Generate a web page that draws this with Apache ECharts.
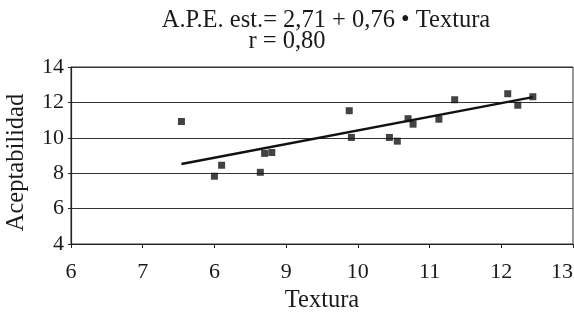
<!DOCTYPE html>
<html>
<head>
<meta charset="utf-8">
<script src="https://cdn.jsdelivr.net/npm/echarts@6/dist/echarts.min.js"></script>
<style>
  html, body { margin: 0; padding: 0; background: #fff; }
  #chart { width: 574px; height: 313px; }
</style>
</head>
<body>
<div id="chart"></div>
<script>
// puntos
const textura = [7.54, 8.0, 8.1, 8.64, 8.7, 8.8, 9.88, 9.91, 10.44, 10.55, 10.7, 10.77, 11.13, 11.35, 12.09, 12.23, 12.44];
const aceptabilidad = [10.92, 7.83, 8.45, 8.05, 9.12, 9.17, 11.53, 10.02, 10.02, 9.81, 11.08, 10.77, 11.05, 12.15, 12.49, 11.84, 12.32];
// recta de regresión (extremos)
const trendX = [7.54, 12.44];
const trendY = [8.52, 12.3];
// etiquetas del eje x tal como aparecen
const xTickLabels = ['6', '7', '6', '9', '10', '11', '12', '13'];

const FONT = '"Liberation Serif", "DejaVu Serif", serif';
const chart = echarts.init(document.getElementById('chart'));

let points = textura.map((x, i) => [x, aceptabilidad[i]]);
let trend = trendX.map((x, i) => [x, trendY[i]]);

let option = {
  animation: false,
  title: [
    {
      text: 'A.P.E. est.= 2,71 + 0,76 • Textura',
      left: 326,
      top: 8,
      textAlign: 'center',
      padding: 0,
      textStyle: { fontFamily: FONT, fontSize: 24.5, fontWeight: 'normal', color: '#1a1a1a' },
    },
    {
      text: 'r = 0,80',
      left: 287,
      top: 29,
      textAlign: 'center',
      padding: 0,
      textStyle: { fontFamily: FONT, fontSize: 24.5, fontWeight: 'normal', color: '#1a1a1a' },
    },
  ],
  grid: {
    left: 71,
    right: 1,
    top: 67,
    bottom: 69,
    outerBoundsMode: 'none',
    containLabel: false,
    show: true,
    borderColor: '#333',
    borderWidth: 1,
  },
  xAxis: {
    type: 'value',
    min: 6,
    max: 13,
    interval: 1,
    name: 'Textura',
    nameLocation: 'middle',
    nameGap: 44,
    nameTextStyle: { fontFamily: FONT, fontSize: 24.5, color: '#1a1a1a' },
    axisLine: { lineStyle: { color: '#222', width: 1.2 } },
    axisTick: { show: true, length: 4, lineStyle: { color: '#222' } },
    splitLine: { show: false },
    axisLabel: {
      margin: 17,
      fontFamily: FONT,
      fontSize: 22,
      color: '#1a1a1a',
      hideOverlap: false,
      alignMaxLabel: 'right',
      formatter: (v) => xTickLabels[Math.round(v - 6)],
    },
  },
  yAxis: {
    type: 'value',
    min: 4,
    max: 14,
    interval: 2,
    name: 'Aceptabilidad',
    nameLocation: 'middle',
    nameGap: 42,
    nameTextStyle: { fontFamily: FONT, fontSize: 24.5, color: '#1a1a1a', padding: [0, 14, 0, 0] },
    axisLine: { show: true, lineStyle: { color: '#222', width: 1.2 } },
    axisTick: { show: true, length: 3, lineStyle: { color: '#222' } },
    splitLine: { show: true, lineStyle: { color: '#333', width: 1.2 } },
    axisLabel: {
      margin: 7,
      fontFamily: FONT,
      fontSize: 22,
      color: '#1a1a1a',
    },
  },
  series: [
    {
      type: 'line',
      data: trend,
      symbol: 'none',
      lineStyle: { color: '#111', width: 2.4 },
      z: 2,
    },
    {
      type: 'scatter',
      data: points,
      symbol: 'rect',
      symbolSize: 7,
      itemStyle: { color: '#141414' },
      z: 3,
    },
  ],
};
chart.setOption(option);
</script>
</body>
</html>
